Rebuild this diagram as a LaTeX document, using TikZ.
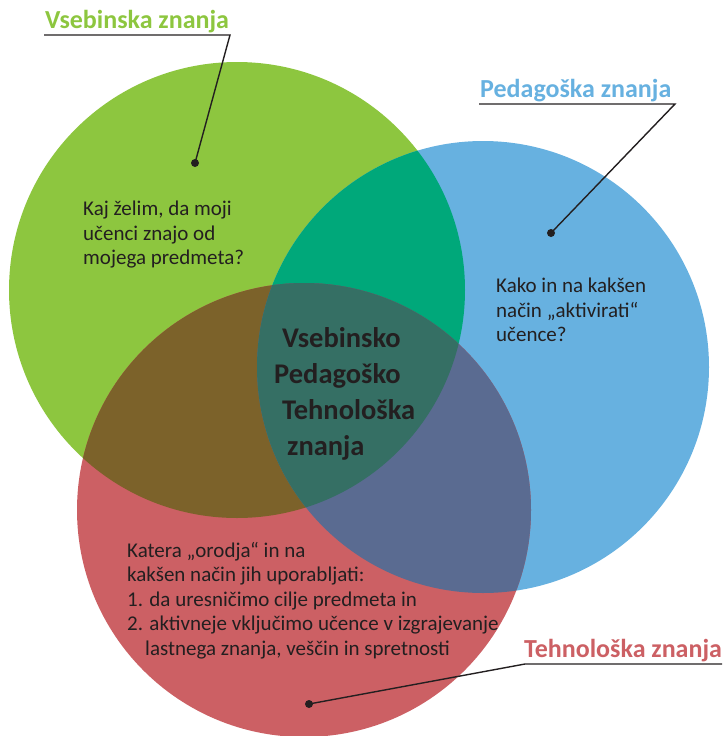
\documentclass[tikz,border=0pt]{standalone}
\usepackage{fontspec}
\setmainfont{Carlito}
\usepackage{tikz}
\usepackage{xcolor}
\usetikzlibrary{positioning}

\definecolor{vgreen}{RGB}{141,198,63}
\definecolor{pblue}{RGB}{103,177,224}
\definecolor{tred}{RGB}{204,96,100}
\definecolor{vpmix}{RGB}{0,168,122}
\definecolor{vtmix}{RGB}{124,98,42}
\definecolor{ptmix}{RGB}{90,107,145}
\definecolor{allmix}{RGB}{53,111,100}
\definecolor{ink}{RGB}{35,31,32}

\begin{document}
\begin{tikzpicture}[
  x=1pt, y=-1pt,
  body/.style={anchor=north west, inner sep=0pt, align=left, text=ink,
               font=\fontsize{21}{24.5}\selectfont},
  core/.style={anchor=north west, inner sep=0pt, align=left, text=ink,
               font=\fontsize{28.5}{36}\selectfont\bfseries},
  lbl/.style={anchor=base west, inner sep=0pt,
              font=\fontsize{26}{30}\selectfont\bfseries},
  lead/.style={line width=1.4pt, draw=ink},
  dot/.style={circle, fill=ink, inner sep=0pt, minimum size=8pt}
]
  \useasboundingbox (0,0) rectangle (725,736);

  \coordinate (vc) at (237,290);
  \coordinate (pc) at (483,367);
  \coordinate (tc) at (304,510);

  % the three circles
  \fill[vgreen] (vc) circle[radius=228pt];
  \fill[pblue] (pc) circle[radius=226pt];
  \fill[tred] (tc) circle[radius=227pt];

  % overlaps
  \begin{scope}
    \clip (vc) circle[radius=228pt];
    \fill[vpmix] (pc) circle[radius=226pt];
    \fill[vtmix] (tc) circle[radius=227pt];
  \end{scope}
  \begin{scope}
    \clip (pc) circle[radius=226pt];
    \fill[ptmix] (tc) circle[radius=227pt];
    \clip (tc) circle[radius=227pt];
    \fill[allmix] (vc) circle[radius=228pt];
  \end{scope}

  % texts inside
  \node[body] (vtext) at (83,201) {Kaj želim, da moji\\učenci znajo od\\mojega predmeta?};
  \node[body] (ptext) at (496,278) {Kako in na kakšen\\način „aktivirati“\\učence?};
  \node[body] (ttext) at (127,542) {Katera „orodja“ in na\\kakšen način jih uporabljati:\\1. da uresničimo cilje predmeta in\\2. aktivneje vključimo učence v izgrajevanje\\\hspace*{18pt}lastnega znanja, veščin in spretnosti};
  \node[core] (ctext) at (274,327) {\hspace*{8pt}Vsebinsko\\Pedagoško\\\hspace*{8pt}Tehnološka\\\hspace*{13pt}znanja};

  % labels
  \node[lbl, text=vgreen] (vlab) at (45,28) {Vsebinska znanja};
  \node[lbl, text=pblue] (plab) at (480,97) {Pedagoška znanja};
  \node[lbl, text=tred] (tlab) at (524,657) {Tehnološka znanja};

  \coordinate (vend) at (230,35);
  \coordinate (pend) at (675,104);
  \coordinate (tend) at (525,664);
  \coordinate (tfar) at (722,664);

  \node[dot] (vdot) at (195,163) {};
  \node[dot] (pdot) at (551,233) {};
  \node[dot] (tdot) at (309,704) {};

  \draw[lead] (44,35) -- (vend) -- (vdot.center);
  \draw[lead] (479,104) -- (pend) -- (pdot.center);
  \draw[lead] (tfar) -- (tend) -- (tdot.center);
\end{tikzpicture}
\end{document}
